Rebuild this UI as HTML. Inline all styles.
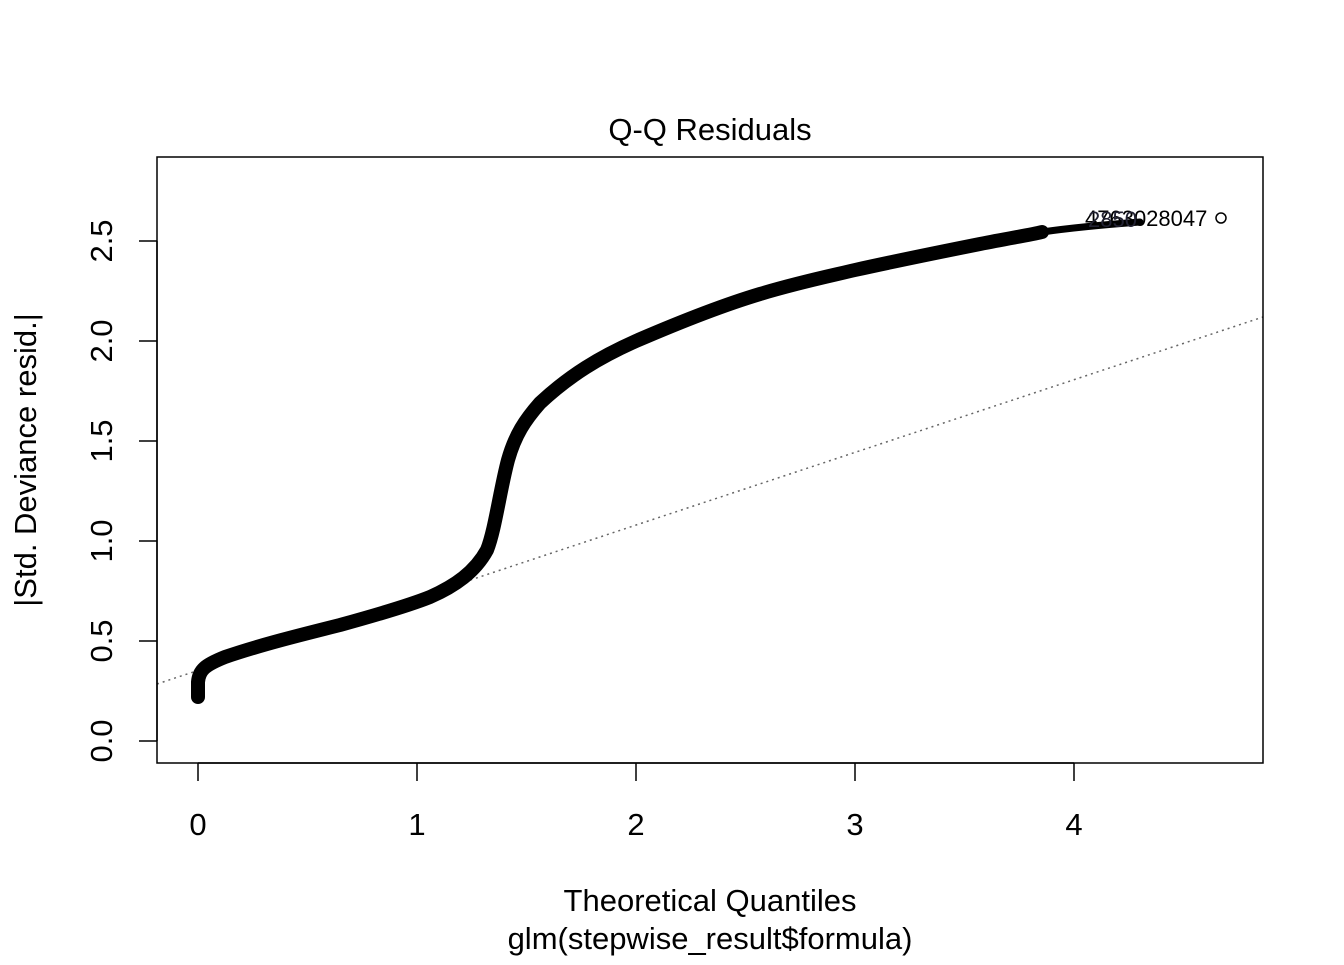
<!DOCTYPE html>
<html><head><style>body{margin:0;background:#fff}</style></head><body>
<svg width="1344" height="960" xmlns="http://www.w3.org/2000/svg" font-family="Liberation Sans, Arial, sans-serif">
<rect width="1344" height="960" fill="#fff"/>
<text x="710" y="140" font-size="31" text-anchor="middle">Q-Q Residuals</text>
<line x1="157" y1="684" x2="1263" y2="317" stroke="#666" stroke-width="1.5" stroke-dasharray="2,4"/>
<path d="M198,697 L198,682 C199,670 205,665 225,657 C260,645 300,635 340,625 C380,614 410,605 430,597 C455,586 475,572 487,550 C495,530 500,490 508,460 C515,435 525,420 540,403 C570,375 600,357 636,341 C680,322 720,306 760,294 C800,282 830,276 855,270 C900,260 940,252 980,244 C1010,238 1030,235 1042,232" fill="none" stroke="#000" stroke-width="14" stroke-linecap="round" stroke-linejoin="round"/>
<path d="M1042,232 C1070,228 1100,225 1140,222" fill="none" stroke="#000" stroke-width="7" stroke-linecap="round"/>
<circle cx="1221" cy="218" r="5" fill="none" stroke="#000" stroke-width="1.5"/>
<text x="1085" y="226" font-size="22" fill="#000">4763028047</text>
<text x="1088" y="227" font-size="22" fill="#223">2850</text>
<rect x="157" y="157" width="1106" height="606" fill="none" stroke="#000" stroke-width="1.5"/>
<g stroke="#000" stroke-width="1.5">
<line x1="198" y1="763" x2="1074" y2="763"/>
<line x1="198" y1="763" x2="198" y2="781"/><line x1="417" y1="763" x2="417" y2="781"/><line x1="636" y1="763" x2="636" y2="781"/><line x1="855" y1="763" x2="855" y2="781"/><line x1="1074" y1="763" x2="1074" y2="781"/>
<line x1="157" y1="241" x2="157" y2="741"/>
<line x1="139" y1="741" x2="157" y2="741"/><line x1="139" y1="641" x2="157" y2="641"/><line x1="139" y1="541" x2="157" y2="541"/><line x1="139" y1="441" x2="157" y2="441"/><line x1="139" y1="341" x2="157" y2="341"/><line x1="139" y1="241" x2="157" y2="241"/>
</g>
<g font-size="31" text-anchor="middle">
<text x="198" y="835">0</text><text x="417" y="835">1</text><text x="636" y="835">2</text><text x="855" y="835">3</text><text x="1074" y="835">4</text>
<g transform="rotate(-90)">
<text x="-741" y="112">0.0</text><text x="-641" y="112">0.5</text><text x="-541" y="112">1.0</text><text x="-441" y="112">1.5</text><text x="-341" y="112">2.0</text><text x="-241" y="112">2.5</text>
<text x="-460" y="36">|Std. Deviance resid.|</text>
</g>
<text x="710" y="911">Theoretical Quantiles</text>
<text x="710" y="949">glm(stepwise_result$formula)</text>
</g>
</svg>
</body></html>
